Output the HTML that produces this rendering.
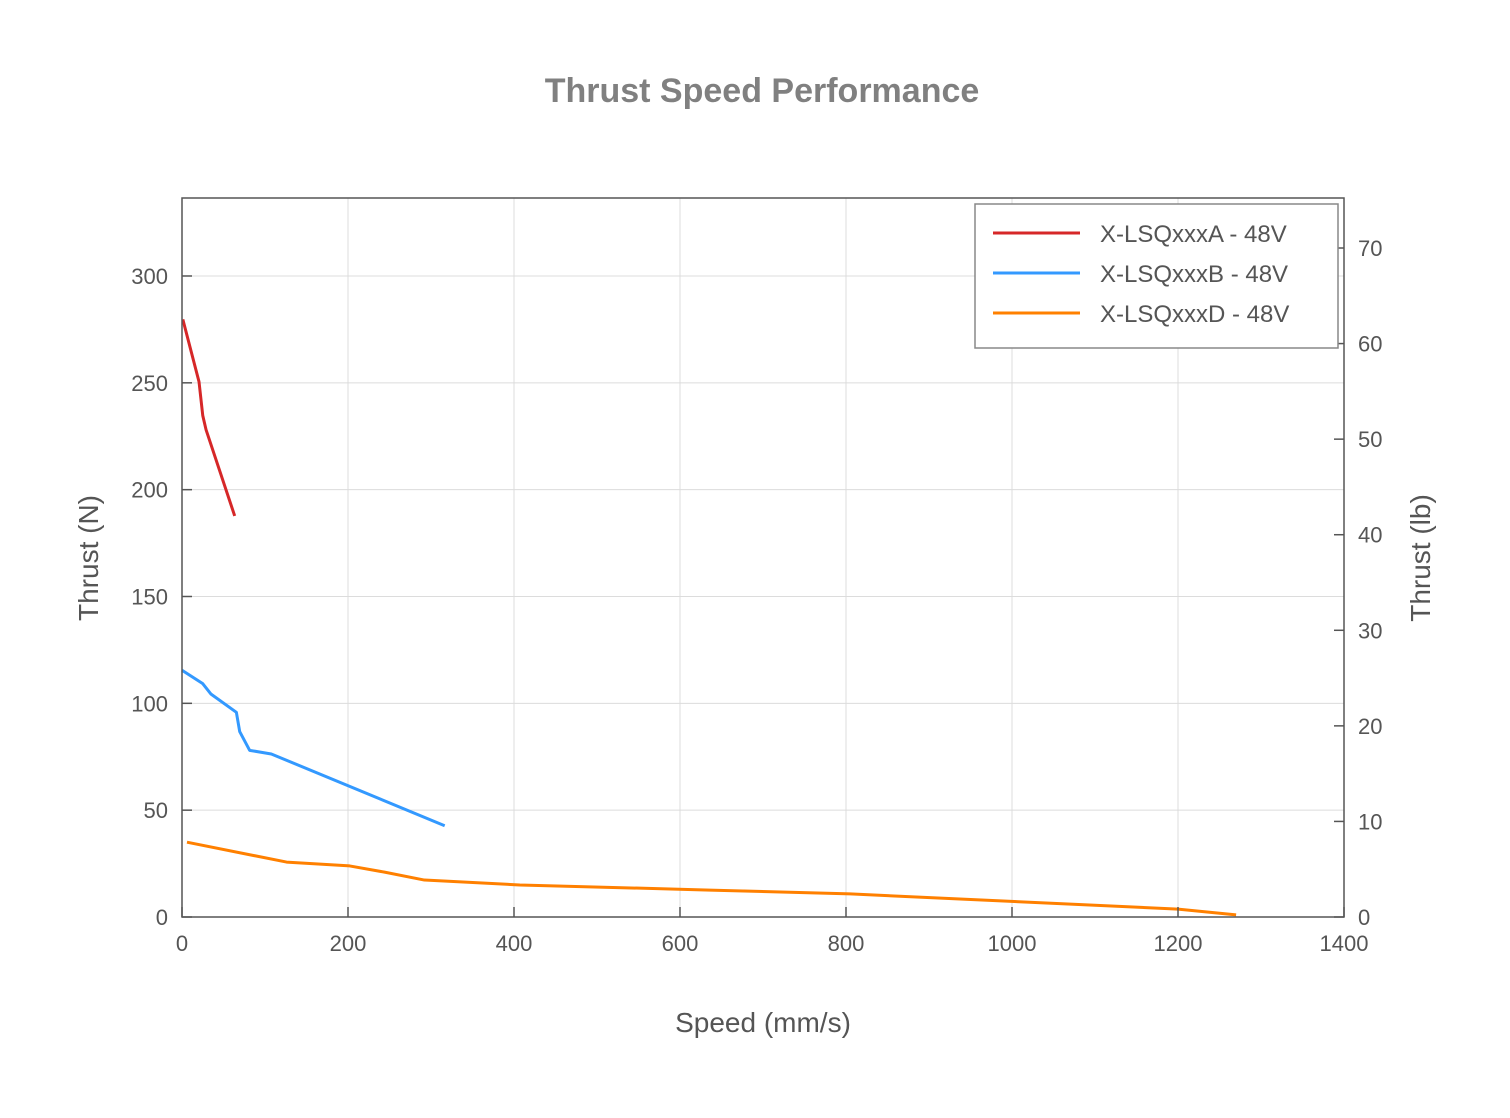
<!DOCTYPE html>
<html><head><meta charset="utf-8"><style>
body{margin:0;background:#fff}
svg text{font-family:"Liberation Sans",sans-serif}
</style></head><body>
<svg width="1510" height="1113" xmlns="http://www.w3.org/2000/svg">
<rect width="1510" height="1113" fill="#fff"/>
<text x="762" y="102" text-anchor="middle" font-size="34" font-weight="bold" fill="#808080">Thrust Speed Performance</text>
<g id="grid"></g>
<g id="series"></g>
<g id="axes"></g>
<text x="763" y="1032" text-anchor="middle" font-size="28" fill="#555">Speed (mm/s)</text>
<text transform="translate(98,558) rotate(-90)" text-anchor="middle" font-size="28" fill="#555">Thrust (N)</text>
<text transform="translate(1430,558) rotate(-90)" text-anchor="middle" font-size="28" fill="#555">Thrust (lb)</text>
<g>
<rect x="975" y="204" width="363" height="144" fill="#fff" stroke="#888" stroke-width="1.5"/>
<line x1="993" y1="233" x2="1080" y2="233" stroke="#d62728" stroke-width="3"/>
<text x="1100" y="242" font-size="24" fill="#555">X-LSQxxxA - 48V</text>
<line x1="993" y1="273" x2="1080" y2="273" stroke="#3399ff" stroke-width="3"/>
<text x="1100" y="282" font-size="24" fill="#555">X-LSQxxxB - 48V</text>
<line x1="993" y1="313" x2="1080" y2="313" stroke="#ff8000" stroke-width="3"/>
<text x="1100" y="322" font-size="24" fill="#555">X-LSQxxxD - 48V</text>
</g>
</svg>
<script>
const xTicks=[0,200,400,600,800,1000,1200,1400];
const yTicks=[0,50,100,150,200,250,300];
const y2Ticks=[0,10,20,30,40,50,60,70];
const aX=[1,20.5,25,29,63.5];
const aY=[279.7,250.5,234.7,228,187.7];
const bX=[0,25,35,65.5,69.5,81.5,107.6,316.5];
const bY=[115.5,109.2,104.3,95.8,86.8,78,76.3,42.7];
const dX=[6,126,202,244,292,407,636,805,1200,1270];
const dY=[35,25.7,23.9,21,17.3,15,12.6,10.8,3.7,1];
const L=182,R=1344,T=198,B=917;
const sx=v=>L+v*(R-L)/1400;
const sy=v=>B-v*2.1367;
const sy2=v=>B-v*9.557;
const NS="http://www.w3.org/2000/svg";
function mk(tag,attrs,parent){const e=document.createElementNS(NS,tag);for(const k in attrs)e.setAttribute(k,attrs[k]);document.getElementById(parent).appendChild(e);return e;}
xTicks.forEach(t=>{
 if(t>0&&t<1400){const g=mk('line',{x1:sx(t),x2:sx(t),y1:T,y2:B,stroke:'#dcdcdc','stroke-width':1},'grid');
 
 }
 const tk=mk('line',{x1:sx(t),x2:sx(t),y1:B,y2:B-10,stroke:'#555','stroke-width':1.5},'axes');
 
 
 const tx=mk('text',{x:sx(t),y:B+34,'text-anchor':'middle','font-size':22,fill:'#555'},'axes');
 tx.textContent=t;
 
 
});
yTicks.forEach(t=>{
 if(t>0){const g=mk('line',{x1:L,x2:R,y1:sy(t),y2:sy(t),stroke:'#dcdcdc','stroke-width':1},'grid');
 
 }
 const tk=mk('line',{x1:L,x2:L+10,y1:sy(t),y2:sy(t),stroke:'#555','stroke-width':1.5},'axes');
 
 
 const tx=mk('text',{x:L-14,y:sy(t)+8,'text-anchor':'end','font-size':22,fill:'#555'},'axes');
 tx.textContent=t;
 
 
});
y2Ticks.forEach(t=>{
 const tk=mk('line',{x1:R-10,x2:R,y1:sy2(t),y2:sy2(t),stroke:'#555','stroke-width':1.5},'axes');
 
 
 const tx=mk('text',{x:R+14,y:sy2(t)+8,'text-anchor':'start','font-size':22,fill:'#555'},'axes');
 tx.textContent=t;
 
 
});
const fr=mk('rect',{x:L,y:T,width:R-L,height:B-T,fill:'none',stroke:'#555','stroke-width':1.5},'axes');


function line(xs,ys,color,name){
 const p=mk('polyline',{points:xs.map((x,i)=>sx(x)+','+sy(ys[i])).join(' '),fill:'none',stroke:color,'stroke-width':3,'stroke-linejoin':'round'},'series');
 
 
}
line(aX,aY,'#d62728','series-lsqxxxa');
line(bX,bY,'#3399ff','series-lsqxxxb');
line(dX,dY,'#ff8000','series-lsqxxxd');
</script>
</body></html>
